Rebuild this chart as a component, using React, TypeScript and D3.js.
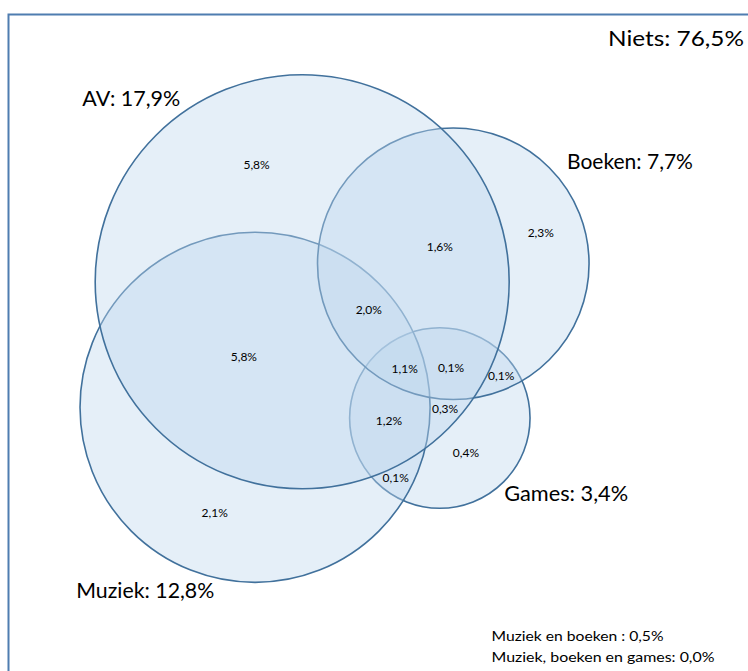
import React from "react";
import * as d3 from "d3";

// Sets (percent of population)
const setNames = ["Games", "Muziek", "Boeken", "AV"];
const setValues = [3.4, 12.8, 7.7, 17.9];
// circle centre layout (in chart units 0..100)
const setCx = [58.8, 34.1, 60.6, 40.4];
const setCy = [62.3, 60.7, 39.3, 42.0];
const setLabels = ["Games: 3,4%", "Muziek: 12,8%", "Boeken: 7,7%", "AV: 17,9%"];
const setLabelX = [67.4, 10.2, 75.8, 11.0];
const setLabelY = [74.6, 89.1, 25.2, 15.8];
const setLabelW = [124, 138, 126, 98];

// Region (intersection) values
const regionValues = ["5,8%", "2,3%", "1,6%", "2,0%", "5,8%", "1,1%", "0,1%", "0,1%", "1,2%", "0,3%", "0,4%", "0,1%", "2,1%"];
const regionX = [34.3, 72.3, 58.8, 49.3, 32.6, 54.1, 60.3, 67.0, 52.0, 59.5, 62.3, 52.9, 28.7];
const regionY = [24.7, 34.9, 37.0, 46.4, 53.4, 55.2, 55.0, 56.2, 62.9, 61.1, 67.7, 71.4, 76.6];

const nietsLabel = "Niets: 76,5%";
const notes = ["Muziek en boeken : 0,5%", "Muziek, boeken en games: 0,0%"];
const notesW = [172, 223];

const W = 748;
const H = 671;

export default function App() {
  const x = d3.scaleLinear().domain([0, 100]).range([0, W]);
  const y = d3.scaleLinear().domain([0, 100]).range([0, H]);
  const r = d3.scaleSqrt().domain([0, 17.9]).range([0, 207]);
  const font = "Lato, 'Open Sans', sans-serif";
  const stroke = "#41719C";
  return (
    <svg
      width={W}
      height={H}
      style={{ position: "absolute", left: 0, top: 0, background: "#fff" }}
      fontFamily={font}
    >
      <rect x={8.5} y={14.5} width={W + 20} height={H + 20} fill="#fff" stroke="#4F7DB0" strokeWidth={2} />
      {setNames.map((n, i) => (
        <circle
          key={n}
          cx={x(setCx[i])}
          cy={y(setCy[i])}
          r={r(setValues[i])}
          fill="rgb(189,215,238)"
          fillOpacity={0.4}
          stroke={stroke}
          strokeWidth={1.6}
        />
      ))}
      {setLabels.map((l, i) => (
        <text
          key={l}
          x={x(setLabelX[i])}
          y={y(setLabelY[i])}
          fontSize={21}
          fill="#000"
          textLength={setLabelW[i]}
          lengthAdjust="spacingAndGlyphs"
        >
          {l}
        </text>
      ))}
      <text x={608} y={46} fontSize={22} fill="#000" textLength={136} lengthAdjust="spacingAndGlyphs">
        {nietsLabel}
      </text>
      {regionValues.map((v, i) => (
        <text
          key={i}
          x={x(regionX[i])}
          y={y(regionY[i])}
          fontSize={12}
          textAnchor="middle"
          dominantBaseline="middle"
          fill="#000"
        >
          {v}
        </text>
      ))}
      {notes.map((t, i) => (
        <text
          key={t}
          x={491.5}
          y={641 + i * 21}
          fontSize={12.5}
          fill="#000"
          textLength={notesW[i]}
          lengthAdjust="spacingAndGlyphs"
        >
          {t}
        </text>
      ))}
    </svg>
  );
}
